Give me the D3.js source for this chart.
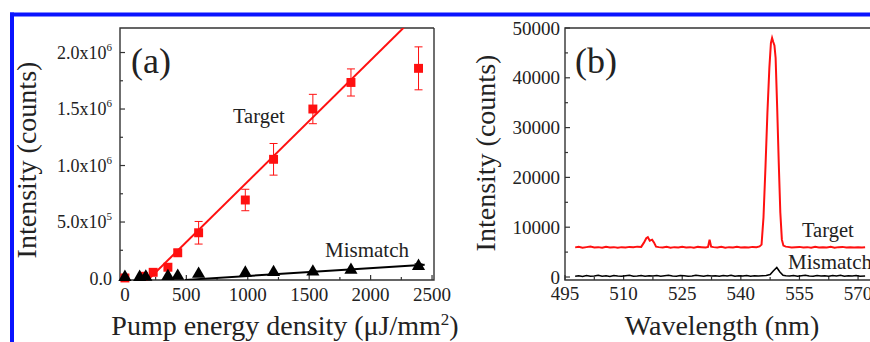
<!DOCTYPE html>
<html><head><meta charset="utf-8">
<script src="https://cdn.jsdelivr.net/npm/d3@7"></script>
<style>
html,body{margin:0;padding:0;background:#fff;}
svg{display:block;font-family:"Liberation Serif","Times New Roman",serif;}
</style></head>
<body>
<svg id="chart" width="870" height="342"></svg>
<script>
// ---------- Panel (a) data ----------
const targetX   = [0, 150, 230, 350, 430, 600, 980, 1210, 1530, 1840, 2390];
const targetY   = [0.005e6, 0.02e6, 0.055e6, 0.1e6, 0.228e6, 0.405e6, 0.695e6, 1.055e6, 1.5e6, 1.735e6, 1.86e6];
const targetErr = [0.01e6, 0.01e6, 0.015e6, 0.02e6, 0.03e6, 0.1e6, 0.095e6, 0.14e6, 0.13e6, 0.12e6, 0.19e6];
const targetFitX = [180, 2400];
const targetFitY = [-0.02e6, 2.36e6];

const mismatchX   = [0, 120, 170, 350, 430, 600, 980, 1210, 1530, 1840, 2390];
const mismatchY   = [0.012e6, 0.012e6, 0.014e6, 0.02e6, 0.022e6, 0.04e6, 0.05e6, 0.055e6, 0.06e6, 0.075e6, 0.11e6];
const mismatchErr = [0, 0, 0, 0, 0, 0, 0, 0, 0.005e6, 0.005e6, 0.02e6];
const mismatchFitX = [490, 2440];
const mismatchFitY = [-0.012e6, 0.122e6];

const xTicksA = [0, 500, 1000, 1500, 2000, 2500];
const xMinorA = [250, 750, 1250, 1750, 2250];
const yTicksA = [0, 0.5e6, 1.0e6, 1.5e6, 2.0e6];
const yMinorA = [0.25e6, 0.75e6, 1.25e6, 1.75e6];
const yTickMantA = ["0.0", "5.0x10", "1.0x10", "1.5x10", "2.0x10"];
const yTickExpA  = ["", "5", "6", "6", "6"];

// ---------- Panel (b) data ----------
const specTargetX = [497.6,498.5,499.5,500.5,501.5,502.5,503.5,504.5,505.5,506.5,507.5,508.5,509.5,510.5,511.5,512.5,513.5,514.5,515.2,515.8,516.2,516.7,517.3,517.8,518.3,519,520,521,522,523,524,525,526,527,528,529,530,531,531.6,532.0,532.4,533,534,535,536,537,538,539,540,541,542,543,544,544.8,545.3,545.8,546.3,546.8,547.3,547.7,548.0,548.3,548.6,548.9,549.3,549.7,550.1,550.5,550.9,551.5,552,553,554,555,556,557,558,559,560,561,562,563,564,565,566,567,568,569,570,571,571.8];
const specTargetY = [5950,6050,5900,6000,6100,5950,6000,5900,6050,5950,6000,5900,6000,5950,6050,6000,6100,6050,6900,7800,8000,7300,7500,6900,6100,6000,5950,6050,5900,6000,5950,6050,5950,6000,5900,6050,6000,5950,6050,7500,6100,6000,5950,6050,5900,6000,5950,6050,5950,6000,5950,6050,6000,6150,6500,12000,22000,33000,42000,47000,48000,47200,46500,44000,34000,23000,13000,7500,6300,6100,6050,5950,6000,6050,5950,6000,5900,6050,5950,6000,5950,6050,5900,6000,6050,5950,6000,5950,6000,5950,6000];

const specMisX = [497.6,498.5,499.5,500.5,501.5,502.5,503.5,504.5,505.5,506.5,507.5,508.5,509.5,510.5,511.5,512.5,513.5,514.5,515.5,516.5,517.5,518.5,519.5,520.5,521.5,522.5,523.5,524.5,525.5,526.5,527.5,528.5,529.5,530.5,531.5,532.5,533.5,534.5,535.5,536.5,537.5,538.5,539.5,540.5,541.5,542.5,543.5,544.5,545.5,546.5,547.5,548.3,549.2,550.0,550.8,551.5,552.5,553.5,554.5,555.5,556.5,557.5,558.5,559.5,560.5,561.5,562.5,563.5,564.5,565.5,566.5,567.5,568.5,569.5,570.5,571.8];
const specMisY = [150,250,100,300,150,200,350,150,250,100,300,200,150,250,350,150,200,300,150,250,200,300,150,250,350,200,150,300,250,150,200,350,250,150,300,200,250,150,300,200,350,150,250,200,300,150,250,200,250,300,500,1200,1900,1000,350,250,200,300,150,250,350,200,150,300,200,250,150,300,200,350,150,250,200,300,150,200];

const xTicksB = [495, 510, 525, 540, 555, 570];
const xMinorB = [502.5, 517.5, 532.5, 547.5, 562.5];
const yTicksB = [0, 10000, 20000, 30000, 40000, 50000];
const yMinorB = [5000, 15000, 25000, 35000, 45000];

// ---------- Drawing ----------
const svg = d3.select("#chart");
const RED = "#ff1010", AX = "#333";
const FONT = '"Liberation Serif","Times New Roman",serif';

// blue frame
svg.append("line").attr("x1", 10).attr("x2", 870).attr("y1", 14.5).attr("y2", 14.5)
  .attr("stroke", "#0a14ff").attr("stroke-width", 4);
svg.append("line").attr("x1", 12).attr("x2", 12).attr("y1", 12.5).attr("y2", 342)
  .attr("stroke", "#0a14ff").attr("stroke-width", 4);

function drawFrame(g, x0, x1, y0, y1, right) {
  const p = d3.path();
  p.moveTo(x1, y0); p.lineTo(x0, y0); p.lineTo(x0, y1); p.lineTo(x1, y1);
  if (right) p.lineTo(x1, y0);
  g.append("path").attr("d", p.toString()).attr("fill", "none").attr("stroke", AX).attr("stroke-width", 1.4);
}

// ===== Panel (a) =====
const xA = d3.scaleLinear().domain([-40, 2516]).range([120, 434]);
const yA = d3.scaleLinear().domain([-0.013e6, 2.217e6]).range([280, 28]);
const gA = svg.append("g");
gA.append("clipPath").attr("id", "clipA").append("rect")
  .attr("x", 120).attr("y", 28).attr("width", 314).attr("height", 252);

// ticks (inward)
const tickG = gA.append("g").attr("stroke", AX).attr("stroke-width", 1.2);
xTicksA.forEach(v => tickG.append("line").attr("x1", xA(v)).attr("x2", xA(v)).attr("y1", 280).attr("y2", 275));
xMinorA.forEach(v => tickG.append("line").attr("x1", xA(v)).attr("x2", xA(v)).attr("y1", 280).attr("y2", 277));
yTicksA.forEach(v => tickG.append("line").attr("x1", 120).attr("x2", 125).attr("y1", yA(v)).attr("y2", yA(v)));
yMinorA.forEach(v => tickG.append("line").attr("x1", 120).attr("x2", 123).attr("y1", yA(v)).attr("y2", yA(v)));
drawFrame(gA, 120, 434, 28, 280, true);

// tick labels
xTicksA.forEach(v => gA.append("text").attr("x", xA(v)).attr("y", 301).attr("text-anchor", "middle")
  .attr("font-size", 19).attr("fill", "#222").text(d3.format("d")(v)));
yTicksA.forEach((v, i) => {
  const t = gA.append("text").attr("x", 112).attr("y", yA(v)).attr("dy", "0.35em")
    .attr("text-anchor", "end").attr("font-size", 18).attr("fill", "#222");
  t.append("tspan").text(yTickMantA[i]);
  if (yTickExpA[i]) t.append("tspan").attr("font-size", 11).attr("dy", "-0.75em").text(yTickExpA[i]);
});

// fit lines
const lineA = d3.line().x(d => xA(d[0])).y(d => yA(d[1]));
gA.append("path").attr("clip-path", "url(#clipA)")
  .attr("d", lineA(d3.zip(targetFitX, targetFitY))).attr("fill", "none").attr("stroke", RED).attr("stroke-width", 2);
gA.append("path").attr("clip-path", "url(#clipA)")
  .attr("d", lineA(d3.zip(mismatchFitX, mismatchFitY))).attr("fill", "none").attr("stroke", "#000").attr("stroke-width", 2);

// error bars
function errBars(xs, ys, es, color) {
  xs.forEach((x, i) => {
    if (!es[i]) return;
    const cx = xA(x), t = yA(ys[i] + es[i]), b = yA(ys[i] - es[i]);
    const g = gA.append("g").attr("stroke", color).attr("stroke-width", 1).attr("clip-path", "url(#clipA)");
    g.append("line").attr("x1", cx).attr("x2", cx).attr("y1", t).attr("y2", b);
    g.append("line").attr("x1", cx - 4).attr("x2", cx + 4).attr("y1", t).attr("y2", t);
    g.append("line").attr("x1", cx - 4).attr("x2", cx + 4).attr("y1", b).attr("y2", b);
  });
}
errBars(targetX, targetY, targetErr, RED);
errBars(mismatchX, mismatchY, mismatchErr, "#000");

// markers
const sq = d3.symbol().type(d3.symbolSquare).size(80);
const tri = d3.symbol().type(d3.symbolTriangle).size(75);
targetX.forEach((x, i) => gA.append("path").attr("d", sq())
  .attr("transform", `translate(${xA(x)},${yA(targetY[i])})`).attr("fill", RED));
mismatchX.forEach((x, i) => gA.append("path").attr("d", tri())
  .attr("transform", `translate(${xA(x)},${yA(mismatchY[i])})`).attr("fill", "#000"));

// labels
gA.append("text").attr("x", 131).attr("y", 73).attr("font-size", 36).attr("fill", "#222").text("(a)");
gA.append("text").attr("x", 233).attr("y", 123).attr("font-size", 20.5).attr("fill", "#222").text("Target");
gA.append("text").attr("x", 325).attr("y", 257).attr("font-size", 21).attr("fill", "#222").text("Mismatch");
gA.append("text").attr("transform", "translate(36,160) rotate(-90)").attr("text-anchor", "middle")
  .attr("font-size", 28).attr("fill", "#222").text("Intensity (counts)");
const xtA = gA.append("text").attr("x", 285).attr("y", 335).attr("text-anchor", "middle")
  .attr("font-size", 28).attr("fill", "#222");
xtA.append("tspan").text("Pump energy density (\u03BCJ/mm");
xtA.append("tspan").attr("font-size", 17).attr("dy", "-0.6em").text("2");
xtA.append("tspan").attr("dy", "0.35em").text(")");

// ===== Panel (b) =====
const xB = d3.scaleLinear().domain([495, 575]).range([565, 877.6]);
const yB = d3.scaleLinear().domain([-600, 50000]).range([280, 28]);
const gB = svg.append("g");
gB.append("clipPath").attr("id", "clipB").append("rect")
  .attr("x", 565).attr("y", 28).attr("width", 320).attr("height", 252);
const tickB = gB.append("g").attr("stroke", AX).attr("stroke-width", 1.2);
xTicksB.forEach(v => tickB.append("line").attr("x1", xB(v)).attr("x2", xB(v)).attr("y1", 280).attr("y2", 275));
xMinorB.forEach(v => tickB.append("line").attr("x1", xB(v)).attr("x2", xB(v)).attr("y1", 280).attr("y2", 277));
yTicksB.forEach(v => tickB.append("line").attr("x1", 565).attr("x2", 570).attr("y1", yB(v)).attr("y2", yB(v)));
yMinorB.forEach(v => tickB.append("line").attr("x1", 565).attr("x2", 568).attr("y1", yB(v)).attr("y2", yB(v)));
drawFrame(gB, 565, 900, 28, 280, false);

xTicksB.forEach(v => gB.append("text").attr("x", xB(v)).attr("y", 300).attr("text-anchor", "middle")
  .attr("font-size", 19).attr("fill", "#222").text(v));
yTicksB.forEach(v => gB.append("text").attr("x", 560).attr("y", yB(v)).attr("dy", "0.35em")
  .attr("text-anchor", "end").attr("font-size", 19).attr("fill", "#222").text(v));

const lineB = d3.line().x(d => xB(d[0])).y(d => yB(d[1]));
gB.append("path").attr("clip-path", "url(#clipB)")
  .attr("d", lineB(d3.zip(specMisX, specMisY))).attr("fill", "none").attr("stroke", "#000").attr("stroke-width", 1.6);
gB.append("path").attr("clip-path", "url(#clipB)")
  .attr("d", lineB(d3.zip(specTargetX, specTargetY))).attr("fill", "none").attr("stroke", RED).attr("stroke-width", 2);

gB.append("text").attr("x", 575).attr("y", 73).attr("font-size", 36).attr("fill", "#222").text("(b)");
gB.append("text").attr("x", 802).attr("y", 237).attr("font-size", 20.5).attr("fill", "#222").text("Target");
gB.append("text").attr("x", 788).attr("y", 269).attr("font-size", 21).attr("fill", "#222").text("Mismatch");
gB.append("text").attr("transform", "translate(495,153) rotate(-90)").attr("text-anchor", "middle")
  .attr("font-size", 28).attr("fill", "#222").text("Intensity (counts)");
gB.append("text").attr("x", 722).attr("y", 335).attr("text-anchor", "middle")
  .attr("font-size", 28).attr("fill", "#222").text("Wavelength (nm)");
</script>
</body></html>
